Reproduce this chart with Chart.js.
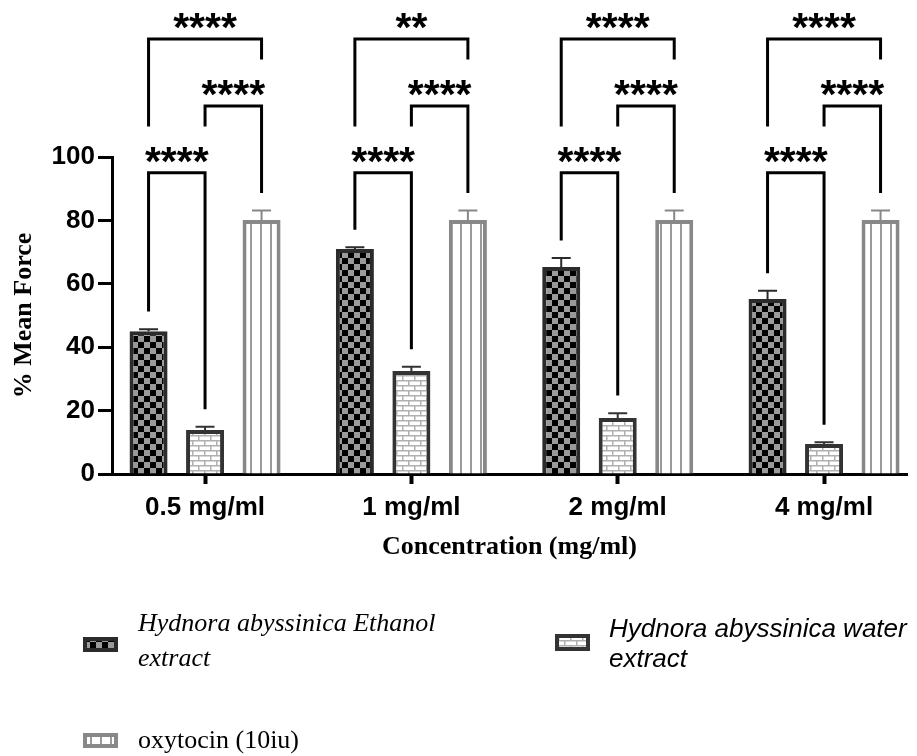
<!DOCTYPE html>
<html>
<head>
<meta charset="utf-8">
<script src="https://cdn.jsdelivr.net/npm/chart.js@4.4.1/dist/chart.umd.min.js"></script>
<style>
  html, body { margin: 0; padding: 0; background: #fff; }
  canvas { display: block; }
</style>
</head>
<body>
<canvas id="Chart" width="917" height="756"></canvas>
<script>
// data
const categories = ['0.5 mg/ml', '1 mg/ml', '2 mg/ml', '4 mg/ml'];
const seriesNames = ['Hydnora abyssinica Ethanol extract', 'Hydnora abyssinica water extract', 'oxytocin (10iu)'];
const ethanolMean = [45.0, 71.0, 65.3, 55.2];
const ethanolSem = [0.7, 0.5, 2.8, 2.6];
const waterMean = [13.9, 32.5, 17.7, 9.5];
const waterSem = [1.0, 1.3, 1.5, 0.5];
const oxytocinMean = [80.1, 80.1, 80.1, 80.1];
const oxytocinSem = [3.0, 3.0, 3.0, 3.0];
const yTicks = [0, 20, 40, 60, 80, 100];
// significance per group
const sigEthWater = ['****', '****', '****', '****'];
const sigWaterOxy = ['****', '****', '****', '****'];
const sigEthOxy = ['****', '**', '****', '****'];
const bracketLevels = [95.0, 116.1, 137.2];
const legGap = 6;

const SANS = '"Liberation Sans", Arial, sans-serif';
const SERIF = '"Liberation Serif", "Times New Roman", serif';

function makePattern(w, h, draw) {
  const c = document.createElement('canvas');
  c.width = w; c.height = h;
  const g = c.getContext('2d');
  draw(g);
  return c.getContext('2d').createPattern(c, 'repeat');
}

const checker = makePattern(12, 12, g => {
  g.fillStyle = '#9a9a9a'; g.fillRect(0, 0, 12, 12);
  g.fillStyle = '#000'; g.fillRect(0, 0, 6, 6); g.fillRect(6, 6, 6, 6);
});
const brick = makePattern(12, 10, g => {
  g.fillStyle = '#fff'; g.fillRect(0, 0, 12, 10);
  g.fillStyle = '#b0b0b0';
  g.fillRect(0, 0, 12, 1.5); g.fillRect(0, 5, 12, 1.5);
  g.fillRect(0, 0, 1.5, 5); g.fillRect(6, 5, 1.5, 5);
});
const stripes = makePattern(10, 10, g => {
  g.fillStyle = '#fff'; g.fillRect(0, 0, 10, 10);
  g.fillStyle = '#9a9a9a'; g.fillRect(0, 0, 2, 10);
});

const colors = ['#2b2b2b', '#333', '#888'];
const fills = [checker, brick, stripes];
const means = [ethanolMean, waterMean, oxytocinMean];
const sems = [ethanolSem, waterSem, oxytocinSem];

function capValue(d, i) { return means[d][i] + sems[d][i]; }

const errorBars = {
  id: 'errorBars',
  afterDatasetsDraw(chart) {
    const ctx = chart.ctx, ys = chart.scales.y;
    ctx.save();
    means.forEach((m, d) => {
      chart.getDatasetMeta(d).data.forEach((bar, i) => {
        const top = ys.getPixelForValue(capValue(d, i));
        ctx.strokeStyle = colors[d];
        ctx.lineWidth = 2;
        ctx.beginPath();
        ctx.moveTo(bar.x, bar.y);
        ctx.lineTo(bar.x, top);
        ctx.moveTo(bar.x - 9.5, top);
        ctx.lineTo(bar.x + 9.5, top);
        ctx.stroke();
      });
    });
    ctx.restore();
  }
};

function drawBracket(ctx, ys, x1, x2, level, end1, end2, label) {
  const yl = ys.getPixelForValue(level);
  ctx.beginPath();
  ctx.moveTo(x1, ys.getPixelForValue(end1));
  ctx.lineTo(x1, yl);
  ctx.lineTo(x2, yl);
  ctx.lineTo(x2, ys.getPixelForValue(end2));
  ctx.stroke();
  ctx.fillText(label, (x1 + x2) / 2, yl + 2);
}

const brackets = {
  id: 'brackets',
  afterDraw(chart) {
    const ctx = chart.ctx, ys = chart.scales.y;
    const b = [0, 1, 2].map(d => chart.getDatasetMeta(d).data);
    ctx.save();
    ctx.strokeStyle = '#000';
    ctx.fillStyle = '#000';
    ctx.lineWidth = 3;
    ctx.lineCap = 'square';
    ctx.lineJoin = 'miter';
    ctx.font = 'bold 41px ' + SANS;
    ctx.textAlign = 'center';
    ctx.textBaseline = 'alphabetic';
    categories.forEach((c, i) => {
      const [L0, L1, L2] = bracketLevels;
      drawBracket(ctx, ys, b[0][i].x, b[1][i].x, L0, capValue(0, i) + legGap, capValue(1, i) + legGap, sigEthWater[i]);
      drawBracket(ctx, ys, b[1][i].x, b[2][i].x, L1, L1 - legGap, capValue(2, i) + legGap, sigWaterOxy[i]);
      drawBracket(ctx, ys, b[0][i].x, b[2][i].x, L2, L1 - legGap, L2 - legGap, sigEthOxy[i]);
    });
    ctx.restore();
  }
};

const legendBox = {
  id: 'legendBox',
  afterDraw(chart) {
    const ctx = chart.ctx;
    const items = [
      { sw: [83, 637, 35, 15], tx: 138, lines: ['Hydnora abyssinica Ethanol', 'extract'], base: [631, 666], font: 'italic 26px ' + SERIF },
      { sw: [555, 634, 35, 17], tx: 609, lines: ['Hydnora abyssinica water', 'extract'], base: [637, 667], font: 'italic 26px ' + SANS },
      { sw: [83, 733, 35, 15], tx: 138, lines: ['oxytocin (10iu)'], base: [748], font: '26px ' + SERIF }
    ];
    ctx.save();
    items.forEach((it, d) => {
      const [x, y, w, h] = it.sw;
      ctx.fillStyle = fills[d];
      ctx.fillRect(x, y, w, h);
      ctx.strokeStyle = colors[d];
      ctx.lineWidth = 4;
      ctx.strokeRect(x + 2, y + 2, w - 4, h - 4);
      ctx.fillStyle = '#000';
      ctx.font = it.font;
      ctx.textAlign = 'left';
      ctx.textBaseline = 'alphabetic';
      it.lines.forEach((t, k) => ctx.fillText(t, it.tx, it.base[k]));
    });
    ctx.restore();
  }
};

const datasets = means.map((m, d) => ({
  label: seriesNames[d],
  data: m.map((v, i) => ({ x: i, y: v })),
  backgroundColor: fills[d],
  borderColor: colors[d],
  borderWidth: 4,
  borderSkipped: 'bottom',
  categoryPercentage: 0.8215,
  barPercentage: 0.673
}));

new Chart(document.getElementById('Chart'), {
  type: 'bar',
  data: { datasets: datasets },
  plugins: [errorBars, brackets, legendBox],
  options: {
    responsive: false,
    animation: false,
    devicePixelRatio: 1,
    layout: { padding: { top: 157, left: 0, right: 10, bottom: 191 } },
    plugins: { legend: { display: false }, tooltip: { enabled: false } },
    scales: {
      x: {
        type: 'linear',
        offset: false,
        min: -0.451,
        max: 3.402,
        afterBuildTicks: s => { s.ticks = categories.map((c, i) => ({ value: i })); },
        afterFit: s => { s.height = 91; },
        ticks: {
          callback: v => categories[v],
          font: { family: SANS, size: 26, weight: 'bold' },
          color: '#000', padding: 8, maxRotation: 0, autoSkip: false
        },
        grid: { offset: false, drawOnChartArea: false, tickLength: 10, tickWidth: 4, tickColor: '#000' },
        border: { color: '#000', width: 3 },
        title: {
          display: true, text: 'Concentration (mg/ml)', color: '#000',
          font: { family: SERIF, size: 26, weight: 'bold' },
          padding: { top: 0, bottom: 2 }
        }
      },
      y: {
        min: 0,
        max: 100,
        afterBuildTicks: s => { s.ticks = yTicks.map(v => ({ value: v })); },
        afterFit: s => { s.width = 112; },
        ticks: { font: { family: SANS, size: 26, weight: 'bold' }, color: '#000', padding: 3 },
        grid: { drawOnChartArea: false, tickLength: 14, tickWidth: 3, tickColor: '#000' },
        border: { color: '#000', width: 3 },
        title: {
          display: true, text: '% Mean Force', color: '#000',
          font: { family: SERIF, size: 26, weight: 'bold' },
          padding: { top: 9, bottom: 0 }
        }
      }
    }
  }
});
</script>
</body>
</html>
